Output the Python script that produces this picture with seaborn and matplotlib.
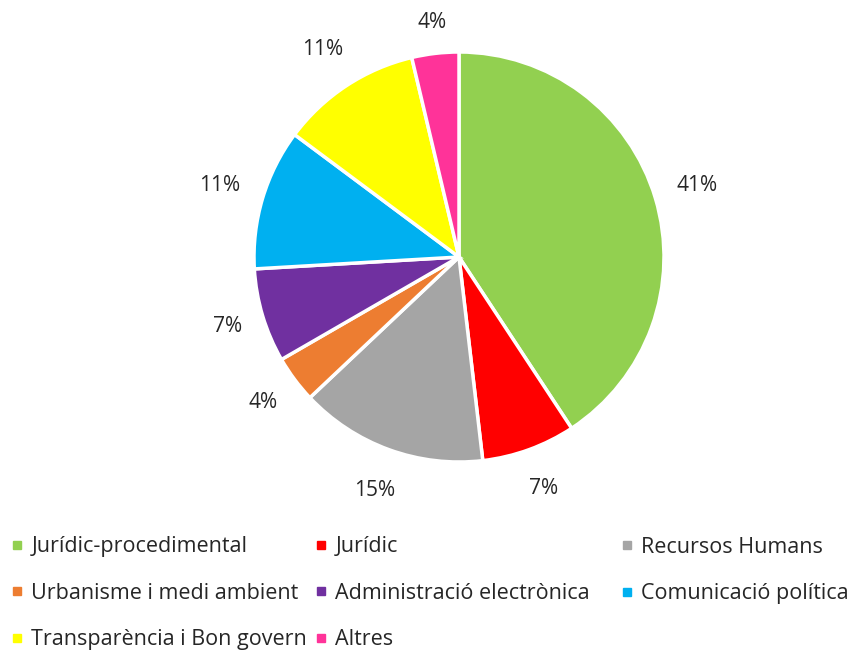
import matplotlib
matplotlib.use("Agg")
import numpy as np
import matplotlib.pyplot as plt
import seaborn as sns
from matplotlib.lines import Line2D

categories = ["Jurídic-procedimental", "Jurídic", "Recursos Humans",
              "Urbanisme i medi ambient", "Administració electrònica",
              "Comunicació política", "Transparència i Bon govern", "Altres"]
counts = [11, 2, 4, 1, 2, 3, 3, 1]
colors = ["#92D050", "#FF0000", "#A5A5A5", "#ED7D31", "#7030A0",
          "#00B0F0", "#FFFF00", "#FF3399"]
label_dist = [1.21, 1.2, 1.21, 1.19, 1.18, 1.22, 1.21, 1.15]

sns.set_style("white")
plt.rcParams['font.family'] = ['Open Sans', 'DejaVu Sans']
TXT = "#262626"

fig = plt.figure(figsize=(8.51, 6.51), dpi=100)
cx, cy, r = 459, 257, 205
W, H = 851, 651
ax = fig.add_axes([(cx - r) / W, (H - cy - r) / H, 2 * r / W, 2 * r / H])
wedges, texts, autotexts = ax.pie(
    counts, colors=colors, startangle=90, counterclock=False,
    autopct=lambda p: f"{p:.0f}%", pctdistance=1.2, radius=1,
    wedgeprops=dict(edgecolor="white", linewidth=2.5),
    textprops=dict(fontsize=15, color=TXT))
for w, t, d in zip(wedges, autotexts, label_dist):
    mid = np.deg2rad((w.theta1 + w.theta2) / 2)
    t.set_position((d * np.cos(mid), d * np.sin(mid)))
ax.set_xlim(-1, 1)
ax.set_ylim(-1, 1)
ax.set_aspect("equal")
ax.axis("off")

# legend laid out in rows of three (Excel style)
cols = [[0, 3, 6], [1, 4, 7], [2, 5]]
col_left = [12, 316, 622]
row_y = [548, 593, 639]
for idxs, xl in zip(cols, col_left):
    hs = [Line2D([0], [0], marker="s", linestyle="", markersize=5.5,
                 markerfacecolor=colors[i], markeredgecolor=colors[i]) for i in idxs]
    yc = np.mean(row_y[:len(idxs)])
    fig.legend(hs, [categories[i] for i in idxs], loc="center left",
               bbox_to_anchor=(xl / W, 1 - yc / H), frameon=False,
               fontsize=15.5, handlelength=0.5, handletextpad=0.4,
               labelspacing=1.18, borderpad=0, borderaxespad=0,
               labelcolor=TXT)

fig.savefig("out.png", dpi=100)
